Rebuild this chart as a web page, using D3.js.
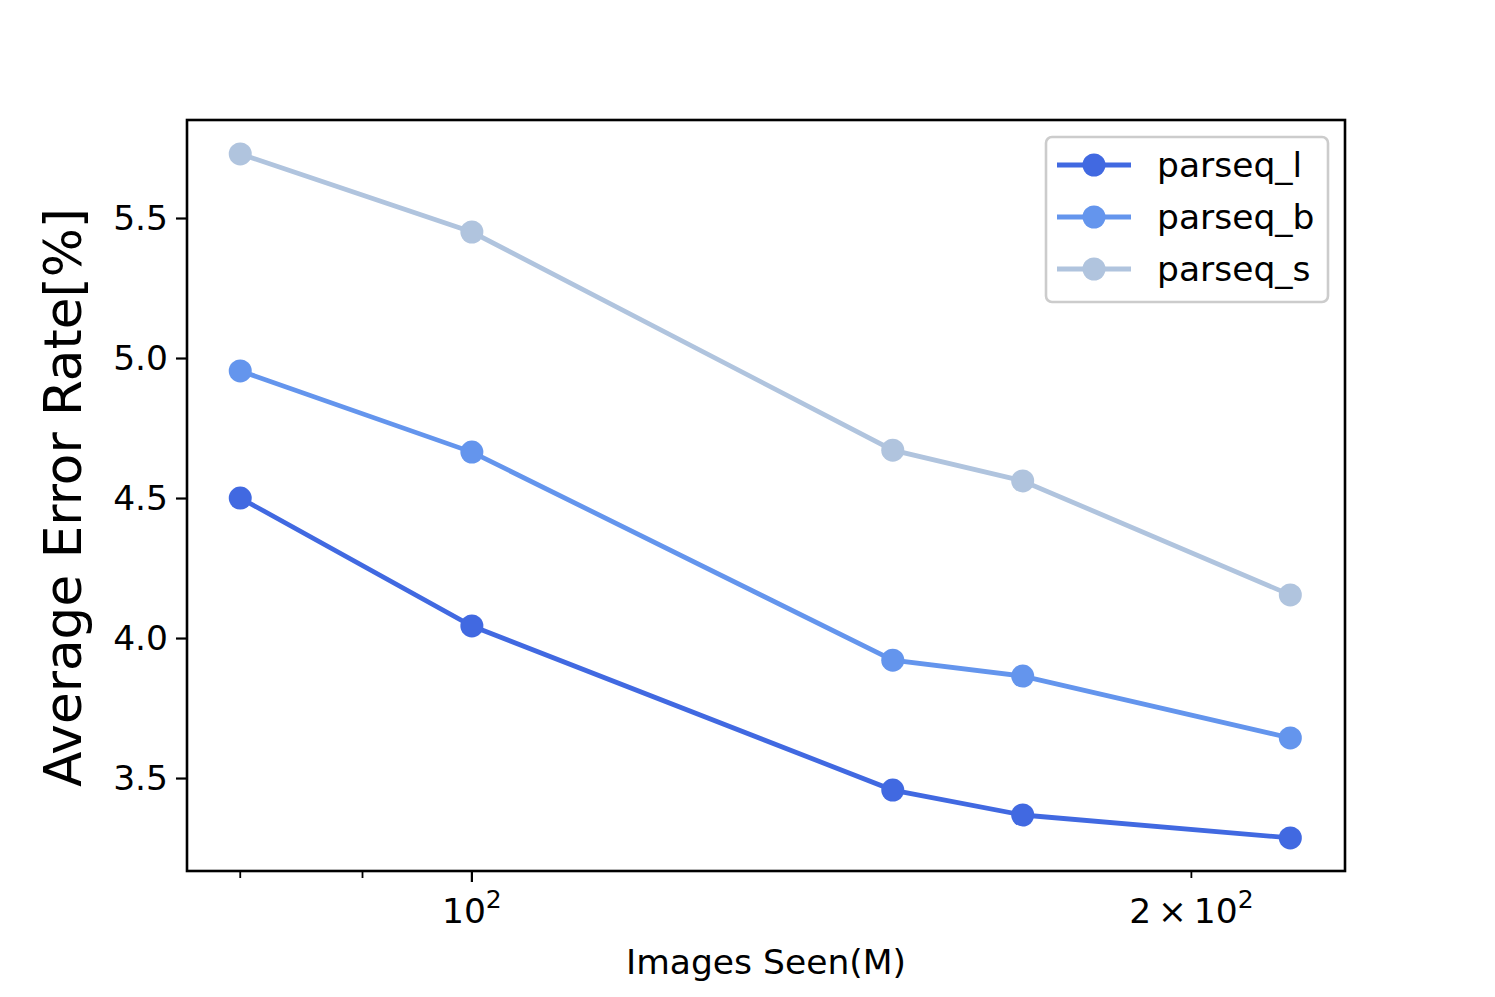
<!DOCTYPE html>
<html>
<head>
<meta charset="utf-8">
<script src="https://cdn.jsdelivr.net/npm/d3@7"></script>
<style>
  body { margin: 0; background: #fff; }
  text { font-family: "DejaVu Sans", sans-serif; fill: #000; }
</style>
</head>
<body>
<svg id="chart" width="1495" height="997"></svg>
<script>
// images seen (M), log x
var imagesSeen = [80, 100, 150, 170, 220];
var seriesNames = ["parseq_l", "parseq_b", "parseq_s"];
var parseqL = [4.50, 4.043, 3.457, 3.368, 3.286];
var parseqB = [4.954, 4.664, 3.921, 3.864, 3.643];
var parseqS = [5.729, 5.45, 4.671, 4.561, 4.154];
var colors = ["#4169E1", "#6495ED", "#B0C4DE"];
var yTicks = [3.5, 4.0, 4.5, 5.0, 5.5];
var xMajor = [100];
var xMinor = [80, 90, 200];

var svg = d3.select("#chart");
var plotL = 187, plotR = 1345, plotT = 120, plotB = 871;
var fs = 34.5;

var x = d3.scaleLog().domain([76.0, 231.9]).range([plotL, plotR]);
var y = d3.scaleLinear().domain([3.168, 5.85]).range([plotB, plotT]);

var allSeries = [parseqL, parseqB, parseqS];

// lines
var line = d3.line()
  .x(function(d, i) { return x(imagesSeen[i]); })
  .y(function(d) { return y(d); });

allSeries.forEach(function(s, k) {
  svg.append("path")
    .datum(s)
    .attr("d", line)
    .attr("fill", "none")
    .attr("stroke", colors[k])
    .attr("stroke-width", 4.8);
  svg.selectAll(null)
    .data(s)
    .enter()
    .append("circle")
    .attr("cx", function(d, i) { return x(imagesSeen[i]); })
    .attr("cy", function(d) { return y(d); })
    .attr("r", 11.5)
    .attr("fill", colors[k]);
});

// frame
svg.append("rect")
  .attr("x", plotL).attr("y", plotT)
  .attr("width", plotR - plotL).attr("height", plotB - plotT)
  .attr("fill", "none").attr("stroke", "#000").attr("stroke-width", 2.6);

// y axis
var yAxis = svg.append("g")
  .attr("transform", "translate(" + plotL + ",0)")
  .call(d3.axisLeft(y).tickValues(yTicks).tickFormat(d3.format(".1f")).tickSize(11).tickPadding(8));
yAxis.select(".domain").remove();
yAxis.selectAll(".tick line").attr("stroke-width", 2.2);
yAxis.selectAll(".tick text").attr("font-size", fs).attr("font-family", "DejaVu Sans");

// x axis, major + minor ticks
var xAxis = svg.append("g").attr("transform", "translate(0," + plotB + ")");
xAxis.selectAll(".major")
  .data(xMajor).enter().append("line")
  .attr("x1", function(d) { return x(d); }).attr("x2", function(d) { return x(d); })
  .attr("y1", 0).attr("y2", 11)
  .attr("stroke", "#000").attr("stroke-width", 2.2);
xAxis.selectAll(".minor")
  .data(xMinor).enter().append("line")
  .attr("x1", function(d) { return x(d); }).attr("x2", function(d) { return x(d); })
  .attr("y1", 0).attr("y2", 7)
  .attr("stroke", "#000").attr("stroke-width", 1.8);

function powLabel(g, v) {
  var e = Math.round(Math.log10(v));
  var m = Math.round(v / Math.pow(10, e));
  var t = g.append("text")
    .attr("x", x(v)).attr("y", 52)
    .attr("text-anchor", "middle")
    .attr("font-size", fs);
  t.append("tspan").text((m === 1 ? "" : m + "\u2009\u00d7\u2009") + "10");
  t.append("tspan").attr("dy", -15).attr("font-size", 25).text(e);
}
powLabel(xAxis, 100);
powLabel(xAxis, 200);

// axis titles
svg.append("text")
  .attr("x", (plotL + plotR) / 2).attr("y", 974)
  .attr("text-anchor", "middle")
  .attr("font-size", fs)
  .text("Images Seen(M)");

svg.append("text")
  .attr("transform", "translate(81," + ((plotT + plotB) / 2 + 2) + ") rotate(-90)")
  .attr("text-anchor", "middle")
  .attr("font-size", 51.7)
  .text("Average Error Rate[%]");

// legend
var legend = svg.append("g").attr("transform", "translate(1046,137)");
legend.append("rect")
  .attr("width", 282).attr("height", 165).attr("rx", 6)
  .attr("fill", "#fff").attr("fill-opacity", 0.8)
  .attr("stroke", "#cccccc").attr("stroke-width", 2.6);
seriesNames.forEach(function(name, k) {
  var row = legend.append("g").attr("transform", "translate(0," + (28 + k * 52) + ")");
  row.append("line")
    .attr("x1", 11).attr("x2", 85).attr("y1", 0).attr("y2", 0)
    .attr("stroke", colors[k]).attr("stroke-width", 4.8);
  row.append("circle").attr("cx", 48).attr("cy", 0).attr("r", 11.5).attr("fill", colors[k]);
  row.append("text")
    .attr("x", 111).attr("y", 12)
    .attr("font-size", fs)
    .text(name);
});
</script>
</body>
</html>
